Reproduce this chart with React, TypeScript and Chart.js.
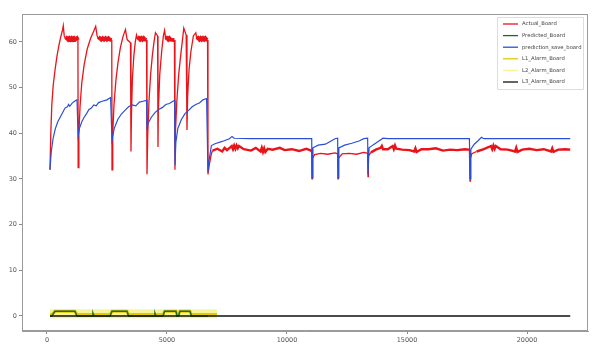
import React, { useEffect, useRef } from "react";
import { Chart, registerables } from "chart.js";

Chart.register(...registerables);

type P = [number, number];

const xTicks = [0, 5000, 10000, 15000, 20000];
const yTicks = [0, 10, 20, 30, 40, 50, 60];

const actualBoard: P[] = [
  [125, 32], [160, 40], [200, 46], [260, 50.5], [340, 54], [420, 57], [500, 59.3], [580, 61.2], [650, 62.6], [680, 63.5], [720, 61.3],
  [790, 60.5], [830, 60.8], [880, 60.5], [930, 60.8], [980, 60.5], [1030, 60.8], [1080, 60.5], [1130, 60.8], [1180, 60.5], [1250, 60.8], [1290, 60.4],
  [1300, 32.5], [1330, 40], [1380, 46], [1450, 51], [1550, 55], [1680, 58.5], [1820, 60.8], [1960, 62.5], [2030, 63.4], [2090, 61.3],
  [2150, 60.5], [2200, 60.8], [2260, 60.5], [2320, 60.8], [2380, 60.5], [2440, 60.8], [2500, 60.5], [2560, 60.8], [2620, 60.5], [2700, 60.4],
  [2710, 32], [2740, 40], [2790, 46], [2870, 51.5], [2960, 55.5], [3060, 58.8], [3170, 61.2], [3270, 62.7], [3340, 60.5], [3480, 59.8],
  [3500, 36], [3520, 44], [3560, 52], [3620, 57], [3680, 60], [3730, 61.5], [3780, 60.5], [3830, 60.8], [3880, 60.5], [3930, 60.8],
  [3980, 60.5], [4030, 60.8], [4080, 60.5], [4150, 60.4],
  [4167, 31], [4200, 40], [4250, 47], [4320, 53], [4390, 57], [4460, 60], [4520, 62], [4610, 61.3],
  [4625, 37], [4640, 45], [4700, 53], [4780, 58], [4850, 61.3], [4900, 62.5], [4950, 60.5], [5000, 60.8], [5050, 60.5], [5100, 60.8], [5150, 60.5], [5310, 60.4],
  [5333, 32], [5350, 40], [5410, 47], [5490, 53], [5570, 57], [5640, 60.2], [5700, 63], [5800, 61.5],
  [5833, 40.7], [5860, 48], [5920, 54], [6000, 58], [6100, 61.3], [6200, 62], [6250, 60.5], [6300, 60.8], [6350, 60.5], [6400, 60.8],
  [6450, 60.5], [6500, 60.8], [6550, 60.5], [6600, 60.8], [6650, 60.5], [6690, 60.4],
  [6708, 31], [6760, 33], [6850, 35.5], [6900, 36.2], [7100, 36.6], [7300, 36.0], [7400, 36.8], [7500, 36.3], [7700, 37.2], [7750, 36.5],
  [7800, 37.3], [7850, 36.6], [7900, 37.3], [7950, 36.7], [8000, 37.2], [8200, 36.5], [8500, 36.2], [8700, 36.8], [8900, 36.0], [8950, 36.8],
  [9000, 35.9], [9050, 36.7], [9100, 35.9], [9200, 36.6], [9400, 36.4], [9700, 36.8], [9900, 36.3], [10200, 36.5], [10500, 36.1], [10800, 36.6],
  [11000, 36.2], [11030, 36], [11042, 30], [11060, 34.5], [11150, 35.3], [11400, 35.6], [11700, 35.4], [12000, 35.7], [12110, 35.5],
  [12125, 30], [12140, 34.5], [12300, 35.5], [12600, 35.6], [12900, 35.4], [13200, 35.8], [13360, 35.6],
  [13375, 30.5], [13390, 35], [13500, 35.8], [13700, 36.4], [13900, 36.8], [13950, 37.2], [14000, 36.5], [14200, 36.5], [14400, 37.2], [14450, 36.5],
  [14500, 37.3], [14550, 36.6], [14800, 36.4], [15100, 36.3], [15300, 36.0], [15350, 36.7], [15400, 35.9], [15600, 36.5], [15900, 36.5], [16200, 36.7],
  [16500, 36.2], [16800, 36.4], [17100, 36.3], [17400, 36.5], [17600, 36.4],
  [17625, 29.5], [17640, 34.5], [17700, 35.5], [17900, 36.0], [18200, 36.5], [18500, 37.2], [18550, 36.5], [18600, 37.3], [18650, 36.6], [18700, 37.2],
  [18900, 36.5], [19200, 36.4], [19500, 36.0], [19550, 36.8], [19600, 35.9], [19800, 36.4], [20100, 36.6], [20400, 36.3], [20700, 36.5], [21000, 36.0],
  [21050, 36.7], [21100, 35.9], [21300, 36.4], [21600, 36.5], [21800, 36.4],
];

const predictionSaveBoard: P[] = [
  [125, 32], [180, 36], [260, 39], [350, 41], [450, 42.5], [550, 43.5], [650, 44.5], [750, 45.5], [850, 45.8], [900, 46.3],
  [950, 45.9], [1050, 46.6], [1150, 47], [1250, 47.3], [1300, 39.5],
  [1350, 41], [1450, 42.5], [1550, 43.5], [1650, 44.3], [1750, 45.2], [1850, 45.5], [1950, 46.2], [2050, 46], [2150, 46.7], [2300, 47],
  [2500, 47.3], [2650, 47.8], [2710, 38.5],
  [2800, 41], [2950, 43], [3100, 44.2], [3250, 45], [3400, 45.8], [3550, 46.2], [3700, 46], [3850, 46.8], [4000, 47], [4150, 47.2],
  [4167, 40.7], [4200, 42], [4350, 43.5], [4500, 44.5], [4650, 45.2], [4800, 45.6], [4950, 46.3], [5100, 46.5], [5250, 47], [5320, 47.2],
  [5333, 33], [5370, 38], [5450, 41], [5600, 43], [5750, 44.3], [5900, 45], [6050, 45.8], [6200, 46.3], [6350, 46.6], [6500, 47.3],
  [6650, 47.6], [6708, 31.5],
  [6750, 34], [6850, 37.3], [7000, 37.7], [7300, 38.2], [7600, 38.8], [7708, 39.3], [7800, 38.9], [8500, 38.8], [9500, 38.8], [10500, 38.8],
  [11030, 38.8], [11042, 30.2], [11080, 36.8], [11300, 37.4], [11600, 37.6], [11800, 38.2], [12000, 38.8], [12110, 38.9],
  [12125, 30.2], [12160, 36.8], [12400, 37.4], [12700, 37.8], [13000, 38.3], [13200, 38.8], [13360, 38.9],
  [13375, 31], [13420, 36.8], [13600, 37.5], [13800, 38.2], [14000, 38.9], [14200, 38.8], [17600, 38.8],
  [17625, 30], [17660, 36.5], [17800, 37.6], [17950, 38.3], [18100, 39.1], [18200, 38.8], [21800, 38.8],
];

const predictedBoard: P[] = [
  [125, 0], [200, 0], [333, 1], [1167, 1], [1250, 0], [1880, 0], [1917, 0.6], [1960, 0], [2625, 0], [2708, 1],
  [3333, 1], [3400, 0], [4460, 0], [4500, 0.6], [4540, 0], [4833, 0], [4900, 1], [5375, 1], [5420, 0], [5480, 0],
  [5540, 1], [5958, 1], [6020, 0], [6700, 0],
];

const l1AlarmBoard: P[] = [
  [125, 0.3], [200, 0.3], [333, 1], [1167, 1], [1250, 0.3], [2625, 0.3], [2708, 1], [3333, 1], [3400, 0.3], [4833, 0.3],
  [4900, 1], [5375, 1], [5420, 0.3], [5480, 0.3], [5540, 1], [5958, 1], [6020, 0.3], [7083, 0.3],
];

const l2AlarmBoard: P[] = [
  [125, 0.5], [7083, 0.5],
];

const l3AlarmBoard: P[] = [
  [125, 0], [21800, 0],
];

const labels = ["Actual_Board", "Predicted_Board", "prediction_save_board", "L1_Alarm_Board", "L2_Alarm_Board", "L3_Alarm_Board"];
const colors = ["#e8141a", "#1f6b1f", "#2a4fd6", "#e6c800", "#f6f49a", "#111111"];

const toXY = (pts: P[]) => pts.map(([x, y]) => ({ x, y }));

const framePlugin = {
  id: "frameAndLegend",
  afterDraw(chart: any) {
    const { ctx, chartArea } = chart;
    ctx.save();
    ctx.strokeStyle = "#9a9a9a";
    ctx.lineWidth = 1;
    ctx.strokeRect(chartArea.left + 0.5, chartArea.top + 0.5, chartArea.right - chartArea.left - 1, chartArea.bottom - chartArea.top - 1);
    const bx = 497, by = 17, bw = 86, bh = 72;
    ctx.fillStyle = "rgba(255,255,255,0.85)";
    ctx.strokeStyle = "#dddddd";
    ctx.beginPath();
    ctx.rect(bx + 0.5, by + 0.5, bw, bh);
    ctx.fill();
    ctx.stroke();
    ctx.font = "5.3px 'DejaVu Sans'";
    ctx.textBaseline = "middle";
    labels.forEach((lab, i) => {
      const y = 24 + i * 11.6;
      ctx.strokeStyle = colors[i];
      ctx.lineWidth = 1.3;
      ctx.beginPath();
      ctx.moveTo(503, y);
      ctx.lineTo(518, y);
      ctx.stroke();
      ctx.fillStyle = "#444";
      ctx.fillText(lab, 522, y);
    });
    ctx.restore();
  },
};

const redWidth = (c: any) => {
  const y0 = c.p0.parsed.y, y1 = c.p1.parsed.y;
  if (y0 >= 60.3 && y1 >= 60.3 && y0 < 61 && y1 < 61) return 3.8;
  if (c.p0.parsed.x > 6800 && y0 > 35.7 && y1 > 35.7) return 2.4;
  return 1.3;
};

export default function App() {
  const ref = useRef<HTMLCanvasElement>(null);
  useEffect(() => {
    document.body.style.margin = "0";
    const canvas = ref.current!;
    const chart = new Chart(canvas, {
      type: "line",
      data: {
        datasets: [
          { label: labels[0], data: toXY(actualBoard), borderColor: colors[0], borderWidth: 1.3, segment: { borderWidth: redWidth }, order: 6 },
          { label: labels[1], data: toXY(predictedBoard), borderColor: colors[1], borderWidth: 1.5, order: 2 },
          { label: labels[2], data: toXY(predictionSaveBoard), borderColor: colors[2], borderWidth: 1.2, order: 5 },
          { label: labels[3], data: toXY(l1AlarmBoard), borderColor: colors[3], borderWidth: 3, order: 3 },
          { label: labels[4], data: toXY(l2AlarmBoard), borderColor: colors[4], borderWidth: 9, order: 4 },
          { label: labels[5], data: toXY(l3AlarmBoard), borderColor: colors[5], borderWidth: 1.4, order: 1 },
        ] as any,
      },
      options: {
        animation: false,
        responsive: false,
        maintainAspectRatio: false,
        elements: { point: { radius: 0 }, line: { tension: 0 } },
        layout: { padding: { left: 0, top: 14, right: 6, bottom: 0 } },
        plugins: { legend: { display: false }, tooltip: { enabled: false } },
        scales: {
          x: {
            type: "linear",
            min: -1040,
            max: 22540,
            afterBuildTicks: (s: any) => { s.ticks = xTicks.map((v) => ({ value: v })); },
            afterFit: (s: any) => { s.height = 19; },
            ticks: { callback: (v: any) => String(v), font: { family: "DejaVu Sans", size: 6.5 }, color: "#555", padding: 2, maxRotation: 0 },
            grid: { display: true, drawOnChartArea: false, drawTicks: true, tickLength: 3, color: "#888" },
            border: { display: true, color: "#9a9a9a" },
          },
          y: {
            type: "linear",
            min: -3.3,
            max: 66.1,
            afterBuildTicks: (s: any) => { s.ticks = yTicks.map((v) => ({ value: v })); },
            afterFit: (s: any) => { s.width = 22; },
            ticks: { callback: (v: any) => String(v), font: { family: "DejaVu Sans", size: 6.5 }, color: "#555", padding: 2 },
            grid: { display: true, drawOnChartArea: false, drawTicks: true, tickLength: 3, color: "#888" },
            border: { display: true, color: "#9a9a9a" },
          },
        },
      } as any,
      plugins: [framePlugin],
    });
    return () => chart.destroy();
  }, []);
  return <canvas ref={ref} width={594} height={350} style={{ display: "block", width: 594, height: 350 }} />;
}
